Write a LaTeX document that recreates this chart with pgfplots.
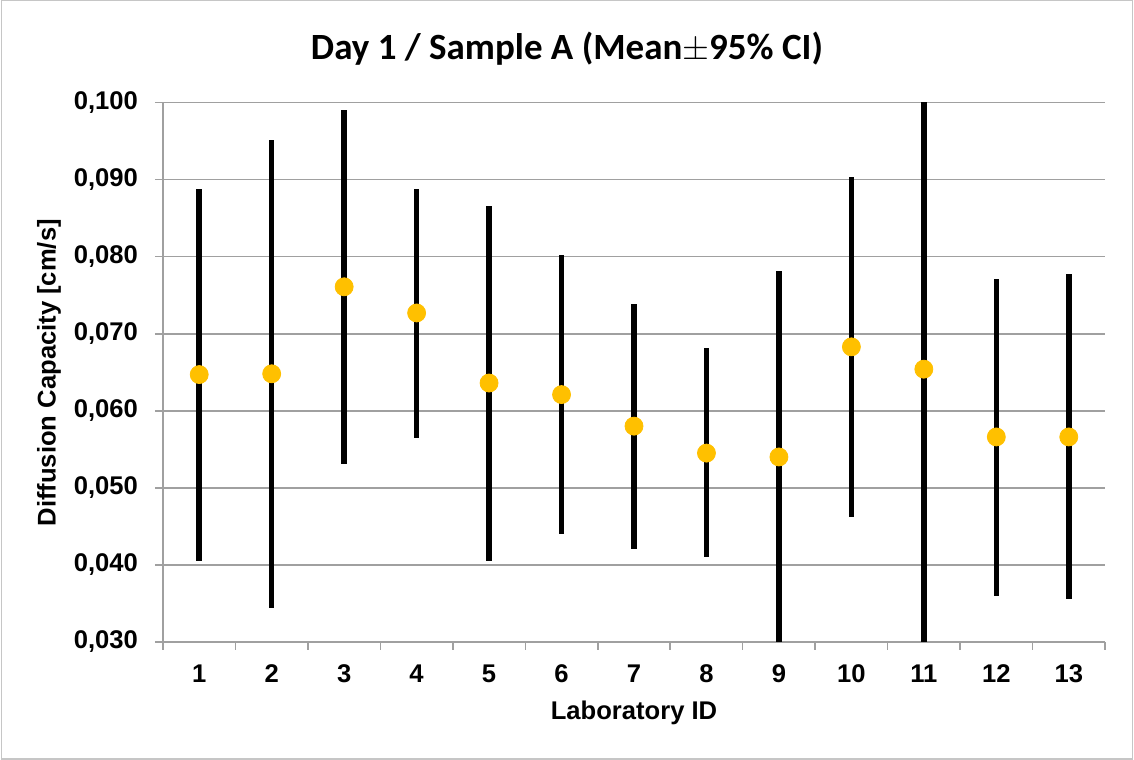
\documentclass[border=0pt]{standalone}
\usepackage{pgfplots}
\pgfplotsset{compat=1.18}
\usepackage{pgfplotstable}
\usepackage{fontspec}
\setmainfont{Liberation Sans}
\newfontfamily\calibri{Carlito}
\definecolor{markorange}{HTML}{FFC000}
\definecolor{gridgray}{HTML}{A0A0A0}

% lab, mean, lower and upper limit of the 95% CI
\pgfplotstableread{
x y lo hi
1 0.0647 0.0405 0.0888
2 0.0648 0.0344 0.0952
3 0.0761 0.0531 0.0990
4 0.0727 0.0565 0.0888
5 0.0636 0.0405 0.0866
6 0.0621 0.0440 0.0802
7 0.0580 0.0420 0.0739
8 0.0545 0.0410 0.0681
9 0.0540 0.0270 0.0782
10 0.0683 0.0462 0.0903
11 0.0654 0.0260 0.1040
12 0.0566 0.0360 0.0771
13 0.0566 0.0355 0.0778
}\labdata

\begin{document}
\begin{tikzpicture}
\begin{axis}[
    at={(0,0)}, anchor=south west,
    scale only axis,
    width=471pt, height=269.5pt,
    xmin=0.5, xmax=13.5,
    ymin=0.03, ymax=0.1,
    xtick={1,...,13},
    minor xtick={0.5,1.5,...,13.5},
    ytick={0.03,0.04,...,0.1},
    major x tick style={draw=none},
    tick align=outside,
    major tick length=4pt, minor tick length=4pt,
    tick style={draw=gridgray, line width=0.75pt},
    axis x line*=bottom, axis y line*=left,
    axis line style={draw=gridgray, line width=0.75pt, -},
    ymajorgrids,
    grid style={draw=gridgray, line width=0.75pt},
    ticklabel style={font=\bfseries\fontsize{12.8}{15}\selectfont},
    yticklabel style={xshift=-5pt, /pgf/number format/.cd, fixed, fixed zerofill, precision=3, use comma, assume math mode=true},
    xticklabel style={/pgf/number format/assume math mode=true, yshift=-4pt},
    scaled y ticks=false,
    clip=true,
]
\addplot[draw=none, mark=none, forget plot,
    error bars/.cd, y dir=both, y explicit, error mark=none,
    error bar style={draw=black, line width=2.75pt}]
    table[x=x, y=y, y error plus expr=\thisrow{hi}-\thisrow{y},
          y error minus expr=\thisrow{y}-\thisrow{lo}] {\labdata};
\addplot[only marks, mark=*, mark size=4.5pt, markorange,
    mark options={draw=markorange, fill=markorange}]
    table[x=x, y=y] {\labdata};
\end{axis}
\node[font=\calibri\bfseries\fontsize{18.5}{22}\selectfont] at (202pt,296.5pt) {Day 1 / Sample A (Mean$\pm$95\% CI)};
\node[font=\bfseries\fontsize{12.8}{15}\selectfont, rotate=90] at (-57pt,134.5pt) {Diffusion Capacity [cm/s]};
\node[font=\bfseries\fontsize{12.8}{15}\selectfont] at (235.5pt,-35.5pt) {Laboratory ID};
\pgfresetboundingbox
\draw[gray!45, line width=0.75pt] (-80.75pt,-58.5pt) rectangle (484.75pt,320.5pt);
\path[use as bounding box] (-81.5pt,-58.5pt) rectangle (485.5pt,320.5pt);
\end{tikzpicture}
\end{document}
